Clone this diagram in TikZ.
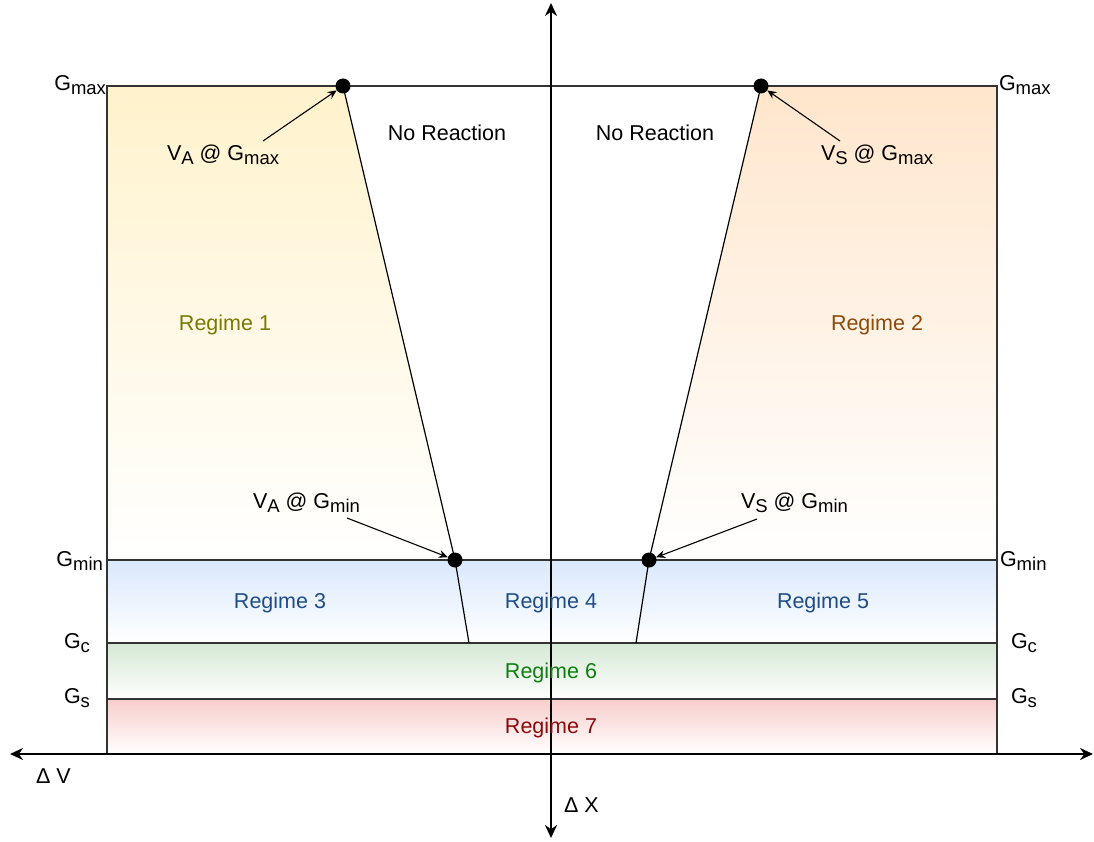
\documentclass[tikz,border=0pt]{standalone}
\usepackage{fontspec}
\setmainfont{Liberation Sans}
\usetikzlibrary{arrows.meta}

\definecolor{fillyel}{HTML}{FFF2CC}
\definecolor{fillora}{HTML}{FFE6CC}
\definecolor{fillblu}{HTML}{DAE8FC}
\definecolor{fillgrn}{HTML}{D5E8D4}
\definecolor{fillred}{HTML}{F8CECC}
\definecolor{edgegray}{HTML}{333333}
\definecolor{txtolive}{HTML}{7A7A00}
\definecolor{txtbrown}{HTML}{8F4A08}
\definecolor{txtblue}{HTML}{1F4D8A}
\definecolor{txtgreen}{HTML}{0F7F0F}
\definecolor{txtred}{HTML}{8E0A0A}

% lowered, smaller text for the G and V indices
\newcommand{\lowsub}[1]{\raisebox{-4pt}{\fontsize{18.5}{20}\selectfont #1}}

\begin{document}
\begin{tikzpicture}[x=1pt,y=-1pt,
  font=\fontsize{21.5}{25}\selectfont,
  lbl/.style={inner sep=0pt, outer sep=0pt},
  border/.style={draw=edgegray, line width=1.4pt},
  bound/.style={draw=black, line width=1.2pt},
  axis/.style={draw=black, line width=2.4pt, {Stealth[length=13pt,width=12pt]}-{Stealth[length=13pt,width=12pt]}},
  pointer/.style={draw=black, line width=1.1pt, -{Stealth[length=9pt,width=8pt]}},
  dot/.style={circle, fill=black, inner sep=0pt, minimum size=15pt},
]
\useasboundingbox (0,0) rectangle (1094,842);

% shaded regimes
\shade[top color=fillyel, bottom color=white] (107,86) -- (343,86) -- (455,560) -- (107,560) -- cycle;
\shade[top color=fillora, bottom color=white] (761,86) -- (997,86) -- (997,560) -- (649,560) -- cycle;
\shade[top color=fillblu, bottom color=white] (107,560) rectangle (997,643);
\shade[top color=fillgrn, bottom color=white] (107,643) rectangle (997,699);
\shade[top color=fillred, bottom color=white] (107,699) rectangle (997,754);

% frame and level lines
\draw[border] (107,754) -- (107,86) -- (997,86) -- (997,754);
\draw[border] (107,560) -- (997,560);
\draw[border] (107,643) -- (997,643);
\draw[border] (107,699) -- (997,699);

% axes
\coordinate (xl) at (10,754);
\coordinate (xr) at (1093,754);
\coordinate (yt) at (551,3);
\coordinate (yb) at (551,838);
\draw[axis] (xl) -- (xr);
\draw[axis] (yt) -- (yb);

% threshold points
\node[dot] (amax) at (343,86) {};
\node[dot] (amin) at (455,560) {};
\node[dot] (smax) at (761,86) {};
\node[dot] (smin) at (649,560) {};
\coordinate (aend) at (469,643);
\coordinate (send) at (636,643);

% boundary lines
\draw[bound] (amax.center) -- (amin.center) -- (aend);
\draw[bound] (smax.center) -- (smin.center) -- (send);

% level labels
\node[lbl, anchor=base east] (gmaxl) at (106,91) {G\lowsub{max}};
\node[lbl, anchor=base west] (gmaxr) at (999,91) {G\lowsub{max}};
\node[lbl, anchor=base east] (gminl) at (103,566) {G\lowsub{min}};
\node[lbl, anchor=base west] (gminr) at (1000,566) {G\lowsub{min}};
\node[lbl, anchor=base west] (gcl) at (64,648) {G\lowsub{c}};
\node[lbl, anchor=base west] (gcr) at (1011,648) {G\lowsub{c}};
\node[lbl, anchor=base west] (gsl) at (64,703) {G\lowsub{s}};
\node[lbl, anchor=base west] (gsr) at (1011,703) {G\lowsub{s}};

% point labels and pointers
\node[lbl, anchor=base west] (lamax) at (167,161) {V\lowsub{A} @ G\lowsub{max}};
\node[lbl, anchor=base west] (lsmax) at (821,161) {V\lowsub{S} @ G\lowsub{max}};
\node[lbl, anchor=base west] (lamin) at (253,508) {V\lowsub{A} @ G\lowsub{min}};
\node[lbl, anchor=base west] (lsmin) at (741,508) {V\lowsub{S} @ G\lowsub{min}};
\coordinate (pamax) at (263,141);
\coordinate (psmax) at (840,141);
\coordinate (pamin) at (347,518);
\coordinate (psmin) at (757,519);
\draw[pointer] (pamax) -- (amax);
\draw[pointer] (psmax) -- (smax);
\draw[pointer] (pamin) -- (amin);
\draw[pointer] (psmin) -- (smin);

% region labels
\node[lbl, anchor=base] (nrl) at (447,141) {No Reaction};
\node[lbl, anchor=base] (nrr) at (655,141) {No Reaction};
\node[lbl, anchor=base, text=txtolive] (r1) at (225,330) {Regime 1};
\node[lbl, anchor=base, text=txtbrown] (r2) at (877,330) {Regime 2};
\node[lbl, anchor=base, text=txtblue] (r3) at (280,608) {Regime 3};
\node[lbl, anchor=base, text=txtblue] (r4) at (551,608) {Regime 4};
\node[lbl, anchor=base, text=txtblue] (r5) at (823,608) {Regime 5};
\node[lbl, anchor=base, text=txtgreen] (r6) at (551,678) {Regime 6};
\node[lbl, anchor=base, text=txtred] (r7) at (551,733) {Regime 7};

% axis labels
\node[lbl, anchor=base west] (dv) at (36,783) {Δ V};
\node[lbl, anchor=base west] (dx) at (564,812) {Δ X};
\end{tikzpicture}
\end{document}
